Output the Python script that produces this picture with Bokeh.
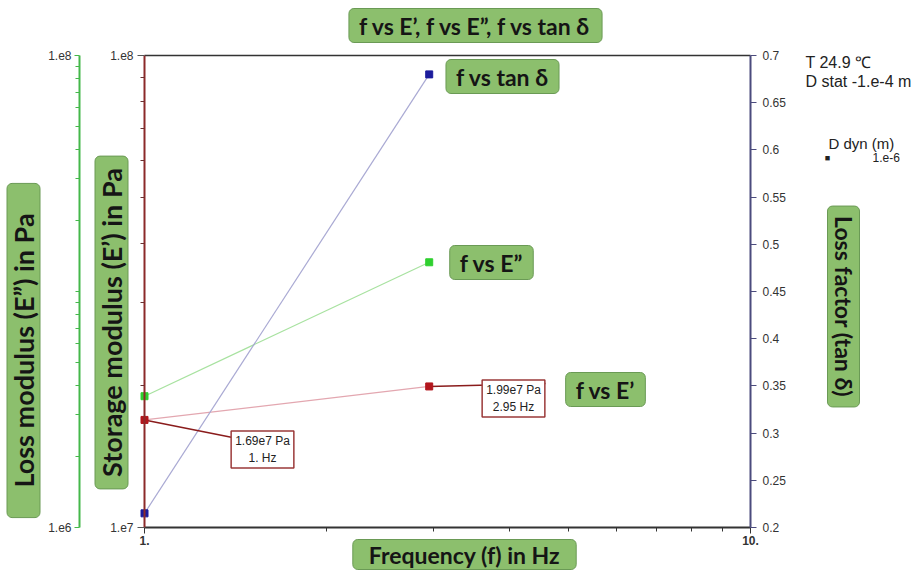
import math
from bokeh.plotting import figure
from bokeh.models import Range1d, LogScale, LogAxis, LinearAxis, FixedTicker, Label
from bokeh.embed import file_html
from bokeh.resources import INLINE

# ---------------- data ----------------
freq_hz = [1.0, 2.95]
storage_modulus_pa = [1.69e7, 1.99e7]   # E'
loss_modulus_pa = [3.6e6, 1.33e7]       # E''
loss_factor = [0.215, 0.68]             # tan delta

x_ticks = [1, 10]
x_minor_ticks = [2, 3, 4, 5, 6, 7, 8, 9]
x_tick_labels = {1: "1.", 10: "10."}

storage_ticks = [1e7, 1e8]
storage_minor_ticks = [2e7, 3e7, 4e7, 5e7, 6e7, 7e7, 8e7, 9e7]
storage_tick_labels = {1e7: "1.e7", 1e8: "1.e8"}

loss_ticks = [1e6, 1e8]
loss_minor_ticks = [2e6, 3e6, 4e6, 5e6, 6e6, 7e6, 8e6, 9e6, 1e7,
                    2e7, 3e7, 4e7, 5e7, 6e7, 7e7, 8e7, 9e7]
loss_tick_labels = {1e6: "1.e6", 1e8: "1.e8"}

tan_ticks = [0.2, 0.25, 0.3, 0.35, 0.4, 0.45, 0.5, 0.55, 0.6, 0.65, 0.7]
tan_tick_labels = {0.2: "0.2", 0.25: "0.25", 0.3: "0.3", 0.35: "0.35", 0.4: "0.4",
                   0.45: "0.45", 0.5: "0.5", 0.55: "0.55", 0.6: "0.6", 0.65: "0.65", 0.7: "0.7"}

title_text = "f vs E\u2019, f vs E\u201d, f vs tan \u03b4"
x_title = "Frequency (f) in Hz"
storage_title = "Storage modulus (E\u2019) in Pa"
loss_title = "Loss modulus (E\u201d) in Pa"
tan_title = "Loss factor (tan \u03b4)"
series_names = ["f vs tan \u03b4", "f vs E\u201d", "f vs E\u2019"]
info_lines = ["T 24.9 \u2103", "D stat -1.e-4 m", "D dyn (m)", "1.e-6"]
annot_1 = "1.69e7 Pa\n1. Hz"
annot_2 = "1.99e7 Pa\n2.95 Hz"

# ---------------- geometry (pixels of the canvas) ----------------
W, H = 916, 570
X_AT_1, X_AT_10 = 144, 750        # where f = 1 and f = 10 sit
Y_BOT, Y_TOP = 527, 55            # bottom / top of the plotting area
X_LOSS_AXIS = 79                  # horizontal position of the E'' axis
SPAN_Y = Y_BOT - Y_TOP

def px_to_f(X):
    return 10 ** ((X - X_AT_1) / (X_AT_10 - X_AT_1))

def px_frac(Y):
    return (Y_BOT - Y) / SPAN_Y

TAN_LO, TAN_HI = tan_ticks[0], tan_ticks[-1]

def px_to_tan(Y):
    return TAN_LO + (TAN_HI - TAN_LO) * px_frac(Y)

def px_to_store(Y):
    return 10 ** (7 + px_frac(Y))

def px_to_loss(Y):
    return 10 ** (6 + 2 * px_frac(Y))

p = figure(width=W, height=H, x_axis_type="log",
           x_range=Range1d(px_to_f(0), px_to_f(W)),
           y_range=Range1d(px_to_tan(H), px_to_tan(0)),
           y_axis_location=None,
           min_border_left=0, min_border_right=0, min_border_top=0, min_border_bottom=0,
           output_backend="svg", toolbar_location=None,
           outline_line_color=None, background_fill_color="white",
           border_fill_color="white")
p.extra_y_ranges = {"store": Range1d(px_to_store(H), px_to_store(0)),
                    "loss": Range1d(px_to_loss(H), px_to_loss(0))}
p.extra_y_scales = {"store": LogScale(), "loss": LogScale()}
p.grid.visible = False

TICK_FONT = "Liberation Sans"

# x axis (frequency)
xa = p.xaxis[0]
xa.ticker = FixedTicker(ticks=x_ticks, minor_ticks=x_minor_ticks)
xa.major_label_overrides = x_tick_labels
xa.fixed_location = TAN_LO
xa.bounds = (x_ticks[0], x_ticks[-1])
xa.axis_line_color = "#333333"
xa.axis_line_width = 2
xa.major_tick_line_color = "#333333"
xa.minor_tick_line_color = "#333333"
xa.major_tick_in = 0
xa.major_tick_out = 6
xa.minor_tick_in = 0
xa.minor_tick_out = 4
xa.major_label_text_font = TICK_FONT
xa.major_label_text_font_size = "12px"
xa.major_label_text_font_style = "bold"
xa.major_label_text_color = "#333333"
xa.major_label_standoff = 2

# storage modulus axis (at f = 1)
sa = LogAxis(y_range_name="store",
             ticker=FixedTicker(ticks=storage_ticks, minor_ticks=storage_minor_ticks),
             major_label_overrides=storage_tick_labels,
             fixed_location=x_ticks[0], bounds=(storage_ticks[0], storage_ticks[-1]))
sa.axis_line_color = "#8c2a2a"
sa.axis_line_width = 2
sa.major_tick_line_color = "#555555"
sa.minor_tick_line_color = "#6a3030"
sa.major_tick_in = 0
sa.major_tick_out = 7
sa.minor_tick_in = 0
sa.minor_tick_out = 4
sa.major_label_standoff = 4
sa.major_label_text_font = TICK_FONT
sa.major_label_text_font_size = "12px"
sa.major_label_text_color = "#333333"
p.add_layout(sa, "left")

# loss modulus axis (further left)
la = LogAxis(y_range_name="loss",
             ticker=FixedTicker(ticks=loss_ticks, minor_ticks=loss_minor_ticks),
             major_label_overrides=loss_tick_labels,
             fixed_location=px_to_f(X_LOSS_AXIS), bounds=(loss_ticks[0], loss_ticks[-1]))
la.axis_line_color = "#44b84a"
la.axis_line_width = 2
la.major_tick_line_color = "#44b84a"
la.minor_tick_line_color = "#44b84a"
la.major_tick_in = 0
la.major_tick_out = 5
la.minor_tick_in = 0
la.minor_tick_out = 4
la.major_label_standoff = 3
la.major_label_text_font = TICK_FONT
la.major_label_text_font_size = "12px"
la.major_label_text_color = "#333333"
p.add_layout(la, "left")

# loss factor axis (at f = 10)
ta = LinearAxis(ticker=FixedTicker(ticks=tan_ticks), major_label_overrides=tan_tick_labels,
                fixed_location=x_ticks[-1], bounds=(TAN_LO, TAN_HI))
ta.axis_line_color = "#4b4b7d"
ta.axis_line_width = 2
ta.major_tick_line_color = "#4b4b7d"
ta.minor_tick_line_color = None
ta.major_tick_in = 0
ta.major_tick_out = 6
ta.major_label_standoff = 6
ta.major_label_text_font = TICK_FONT
ta.major_label_text_font_size = "12px"
ta.major_label_text_color = "#333333"
p.add_layout(ta, "right")

# top border of the plotting area
p.line([x_ticks[0], x_ticks[-1]], [TAN_HI, TAN_HI], line_color="#333333", line_width=1.5)

# ---------------- series ----------------
p.line(freq_hz, storage_modulus_pa, y_range_name="store", line_color="#e3a7b0", line_width=1.2)
p.line(freq_hz, loss_modulus_pa, y_range_name="loss", line_color="#a8e2a0", line_width=1.2)
p.line(freq_hz, loss_factor, line_color="#a9a9d3", line_width=1.2)

# leader lines for the value call-outs
p.line([freq_hz[0], px_to_f(232)], [storage_modulus_pa[0], px_to_store(437)],
       y_range_name="store", line_color="#8a1c1c", line_width=1.5)
p.line([freq_hz[1], px_to_f(545)], [storage_modulus_pa[1], px_to_store(383)],
       y_range_name="store", line_color="#8a1c1c", line_width=1.5)

p.scatter(freq_hz, storage_modulus_pa, y_range_name="store", marker="square", size=7,
          fill_color="#b3161d", line_color="#b3161d")
p.scatter(freq_hz, loss_modulus_pa, y_range_name="loss", marker="square", size=7,
          fill_color="#2fd02f", line_color="#2fd02f")
p.scatter(freq_hz, loss_factor, marker="square", size=7,
          fill_color="#1c1c9c", line_color="#1c1c9c")

# ---------------- annotations ----------------
BOX_FONT = "Lato"
GREEN = "#8cbf6d"
GREEN_EDGE = "#6a9a55"

def green_box(X, Y, text, angle=0.0, size="23px", pad=(10, 3)):
    p.add_layout(Label(x=X, y=H - Y, x_units="screen", y_units="screen",
                       text=text, angle=angle,
                       text_align="center", text_baseline="middle",
                       text_font=BOX_FONT, text_font_style="bold", text_font_size=size,
                       text_color="#151515",
                       background_fill_color=GREEN, background_fill_alpha=1.0,
                       border_line_color=GREEN_EDGE, border_line_width=1,
                       border_radius=5,
                       padding=dict(left=pad[0], right=pad[0], top=pad[1], bottom=pad[1])))

green_box(475, 25, title_text)
green_box(502, 76, series_names[0])
green_box(491, 262, series_names[1])
green_box(605, 389, series_names[2])
green_box(464, 554, x_title, pad=(16, 1))
green_box(23, 350, loss_title, angle=math.pi / 2, size="27px", pad=(30, 0))
green_box(111, 322, storage_title, angle=math.pi / 2, size="27px", pad=(12, 0))
green_box(843, 306, tan_title, angle=-math.pi / 2, pad=(10, 2))

def value_box(X, Y, text):
    p.add_layout(Label(x=X, y=H - Y, x_units="screen", y_units="screen", text=text,
                       text_align="center", text_baseline="middle",
                       text_font=TICK_FONT, text_font_size="12px", text_color="#222222",
                       background_fill_color="white", background_fill_alpha=1.0,
                       border_line_color="#9b3a3a", border_line_width=1.5,
                       padding=dict(left=4, right=4, top=3, bottom=3)))

value_box(262, 449, annot_1)
value_box(513, 398, annot_2)

def info(X, Y, text, size="16px", align="left"):
    p.add_layout(Label(x=X, y=H - Y, x_units="screen", y_units="screen", text=text,
                       text_align=align, text_baseline="middle",
                       text_font=TICK_FONT, text_font_size=size, text_color="#222222"))

info(805, 62, info_lines[0])
info(805, 81, info_lines[1])
info(828, 143, info_lines[2], size="15px")
info(827, 157, "\u25a0", size="9px", align="center")
info(872, 157, info_lines[3], size="12px")

open("out.html", "w").write(file_html(p, INLINE))
